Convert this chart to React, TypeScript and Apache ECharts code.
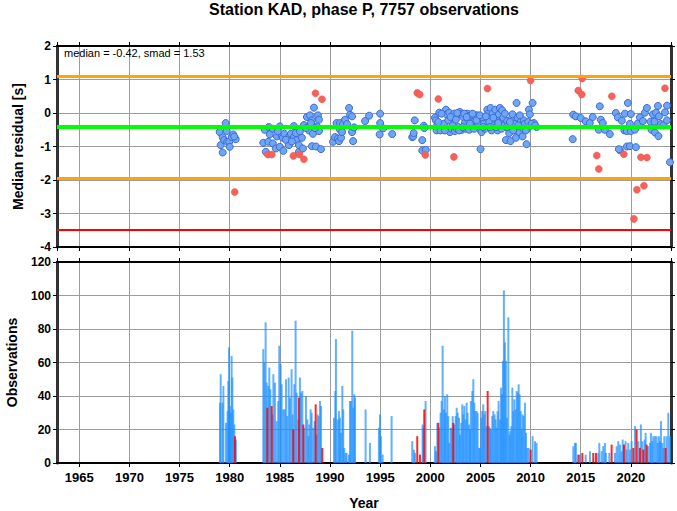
import React, { useEffect, useRef } from "react";
import * as echarts from "echarts";

const TITLE = "Station KAD, phase P, 7757 observations";
const MEDIAN = -0.42;
const SMAD = 1.53;
const STATS_LABEL = "median = -0.42, smad = 1.53";
const X_MIN = 1962.78;
const X_MAX = 2024.0;

// [year, median residual]
const bluePoints: [number, number][] = [
  [1979.0, -0.57], [1979.1, -0.96], [1979.3, -0.73], [1979.3, -1.18], [1979.45, -0.81], [1979.6, -0.3],
  [1979.7, -0.54], [1979.75, -0.86], [1979.95, -0.86], [1980.0, -1.01], [1980.2, -0.72], [1980.35, -0.64],
  [1980.6, -0.78], [1980.45, -0.7],
  [1983.35, -0.89], [1983.5, -0.5], [1983.6, -1.16], [1983.85, -0.86], [1983.9, -0.42], [1984.0, -0.64],
  [1984.3, -0.47], [1984.3, -0.91], [1984.6, -1.06], [1984.7, -0.7], [1985.0, -0.4], [1985.0, -1.01],
  [1985.2, -0.7], [1985.3, -0.74], [1985.35, -1.13], [1985.45, -0.62], [1985.9, -0.72], [1985.9, -0.96],
  [1986.1, -0.62], [1986.4, -0.39], [1986.4, -0.72], [1986.7, -0.81], [1986.9, -0.96], [1986.9, -1.16],
  [1987.2, -0.74], [1987.3, -1.06], [1987.4, -0.36], [1987.7, -0.12], [1987.9, -0.52], [1988.0, -0.07],
  [1988.2, -0.22], [1988.2, -0.99], [1988.3, -0.62], [1988.4, 0.16], [1988.6, -1.0], [1988.7, -0.4],
  [1988.8, -0.07], [1988.9, -0.2], [1988.9, -0.54], [1989.1, -1.08], [1984.8, -0.55], [1985.6, -0.8],
  [1986.2, -0.85], [1986.6, -0.6], [1987.0, -0.55], [1987.6, -0.45], [1988.1, -0.3], [1988.5, -0.45],
  [1990.3, -0.86], [1990.5, -0.72], [1990.66, -0.3], [1990.8, -0.76], [1990.9, -0.84], [1991.0, -0.3],
  [1991.0, -0.5], [1991.1, -0.74], [1991.2, -0.57], [1991.3, -0.33], [1991.5, -0.2], [1991.7, -0.33],
  [1991.9, 0.15], [1992.0, -0.05], [1992.2, -0.1], [1992.2, -0.57], [1992.3, -0.84], [1992.4, -0.43],
  [1993.5, -0.24], [1993.9, -0.08], [1995.0, -0.02], [1995.0, -0.3], [1995.3, -0.46], [1994.95, -0.64],
  [1996.2, -0.63],
  [1998.2, -0.72], [1998.3, -0.7], [1998.35, -0.6], [1998.45, -0.22], [1999.2, -0.81], [1999.35, -0.38],
  [1999.4, -0.45], [1999.2, -1.12], [1999.55, -1.1],
  [2000.46, -0.14], [2000.56, -0.22], [2000.69, -0.37], [2000.63, -0.52], [2000.89, 0.01], [2001.02, -0.52],
  [2001.22, -0.37], [2001.36, -0.32], [2001.56, 0.1], [2001.62, -0.04], [2001.69, -0.47], [2001.89, 0.01],
  [2001.95, -0.57], [2002.12, -0.47], [2002.29, -0.14], [2002.39, -0.02], [2002.45, -0.54], [2002.62, -0.47],
  [2002.79, -0.42], [2002.95, 0.03], [2003.05, -0.04], [2003.15, -0.5], [2003.28, -0.12], [2003.45, -0.3],
  [2003.55, -0.47], [2003.72, -0.02], [2003.78, -0.2], [2003.88, -0.5], [2004.02, -0.07], [2004.11, -0.32],
  [2004.28, -0.27], [2004.45, -0.07], [2004.55, -0.42], [2004.68, -0.07], [2004.78, -0.32], [2004.88, -0.47],
  [2005.01, -1.08], [2005.11, -0.57], [2005.21, -0.14], [2005.34, -0.32], [2005.44, -0.47], [2005.68, 0.1],
  [2005.78, -0.02], [2005.88, -0.27], [2006.01, 0.15], [2006.11, -0.52], [2006.21, -0.02], [2006.34, -0.37],
  [2006.48, 0.1], [2006.61, -0.17], [2006.71, -0.52], [2006.84, -0.04], [2006.94, 0.15], [2007.04, -0.27],
  [2007.17, 0.08], [2007.27, -0.14], [2007.37, -0.37], [2007.54, -0.81], [2007.67, -0.24], [2007.77, -0.47],
  [2007.87, -0.6], [2008.0, -0.84], [2008.1, -0.17], [2008.2, -0.04], [2008.33, -0.32], [2008.44, -0.5],
  [2008.54, -0.74], [2008.6, 0.3], [2008.7, -0.14], [2008.87, -0.57], [2009.0, -0.27], [2009.1, -0.37],
  [2009.2, -0.7], [2009.33, -0.22], [2009.43, -0.32], [2009.6, -0.93], [2009.7, -0.47], [2009.83, 0.1],
  [2009.93, -0.04], [2010.2, 0.3], [2010.33, -0.3], [2010.6, -0.42],
  [2000.79, -0.27], [2001.12, -0.02], [2001.46, -0.52], [2001.79, -0.22], [2002.02, -0.12], [2002.22, -0.37],
  [2002.55, -0.2], [2002.69, 0.0], [2002.88, -0.52], [2003.22, -0.42], [2003.38, -0.02], [2003.62, -0.12],
  [2003.95, -0.32], [2004.21, -0.02], [2004.35, -0.47], [2004.61, -0.22], [2004.95, -0.07], [2005.28, -0.42],
  [2005.54, -0.1], [2005.94, -0.42], [2006.28, -0.14], [2006.54, -0.42], [2006.77, -0.3], [2007.11, -0.47],
  [2007.44, -0.02], [2007.6, -0.42], [2007.94, -0.27], [2008.27, -0.52], [2008.77, -0.37], [2008.93, -0.07],
  [2009.27, -0.47], [2009.53, -0.52], [2009.77, -0.27], [2010.1, -0.32], [2010.43, -0.37],
  [2014.25, -0.05], [2014.5, -0.1], [2014.2, -0.78], [2015.0, -0.15], [2015.5, -0.25], [2015.9, -0.3],
  [2016.2, -0.12], [2016.9, 0.2], [2017.0, -0.2], [2017.2, -0.3], [2016.8, -0.5], [2017.4, -0.5],
  [2017.9, -0.63], [2018.5, 0.0], [2018.7, -0.13], [2019.1, -0.23], [2019.4, -0.02], [2019.7, 0.3],
  [2019.9, -0.32], [2020.0, -0.03], [2019.35, -0.52], [2019.6, -0.54], [2020.0, -0.54], [2020.4, -0.5],
  [2020.7, -0.31], [2020.9, -0.13], [2021.2, -0.24], [2021.4, 0.01], [2021.6, 0.15], [2021.95, -0.26],
  [2022.2, -0.04], [2022.35, -0.26], [2022.5, 0.01], [2022.7, 0.21], [2022.8, -0.1], [2022.05, -0.5],
  [2022.4, -0.58], [2022.75, -0.69], [2023.0, -0.33], [2023.25, -0.37], [2023.4, 0.02], [2023.6, 0.22],
  [2023.6, -0.22], [2023.9, -1.47], [2018.9, -1.11], [2018.8, -1.08], [2019.6, -1.0], [2019.9, -0.99],
  [2020.5, -1.02],
];

const redPoints: [number, number][] = [
  [1980.5, -2.36], [1983.8, -1.24], [1984.2, -1.24], [1986.35, -1.28], [1986.95, -1.24], [1987.4, -1.38],
  [1988.55, 0.59], [1989.2, 0.41], [1998.7, 0.6], [1998.95, 0.55], [1999.5, -1.25], [2000.8, 0.42],
  [2002.35, -1.31], [2005.7, 0.73], [2010.0, 0.97], [2014.75, 0.67], [2015.1, 0.55], [2015.15, 1.03],
  [2016.6, -1.27], [2016.8, -1.67], [2018.1, 0.5], [2019.3, -1.23], [2020.3, -3.16], [2020.6, -2.29],
  [2021.0, -1.32], [2021.3, -2.17], [2021.6, -1.33], [2023.4, 0.74],
];

// [year, number of observations]
const blueBars: [number, number][] = [
  [1979.03, 36], [1979.1, 53], [1979.28, 36], [1979.37, 46], [1979.63, 24], [1979.79, 31], [1979.86, 49],
  [1979.93, 69], [1980.02, 34], [1980.09, 30], [1980.19, 64], [1980.26, 51], [1980.36, 32], [1980.46, 23],
  [1980.62, 14],
  [1983.35, 68], [1983.45, 60], [1983.58, 84], [1983.68, 48], [1983.85, 46], [1983.95, 57], [1984.05, 44],
  [1984.28, 29], [1984.35, 53], [1984.51, 48], [1984.68, 25], [1984.84, 37], [1984.94, 70], [1985.08, 59],
  [1985.18, 47], [1985.34, 32], [1985.48, 32], [1985.61, 50], [1985.74, 28], [1985.88, 51], [1986.01, 39],
  [1986.17, 56], [1986.27, 29], [1986.44, 47], [1986.57, 85], [1986.67, 42], [1986.84, 26], [1987.0, 51],
  [1987.1, 42], [1987.24, 43], [1987.44, 21], [1987.6, 40], [1987.74, 26], [1987.84, 16], [1987.94, 23],
  [1988.07, 32], [1988.17, 30], [1988.33, 21], [1988.47, 25], [1988.67, 17], [1988.77, 29], [1988.87, 28],
  [1989.0, 37], [1989.1, 34],
  [1990.4, 27], [1990.53, 43], [1990.59, 74], [1990.76, 26], [1990.89, 31], [1990.99, 27], [1991.09, 18],
  [1991.23, 46], [1991.32, 32], [1991.42, 9], [1991.56, 6], [1991.66, 6], [1991.89, 5], [1991.99, 37],
  [1992.09, 37], [1992.22, 79], [1992.32, 33], [1992.42, 41], [1992.49, 39], [1993.55, 32], [1993.98, 12],
  [1994.88, 21], [1994.98, 29], [1995.08, 16], [1995.25, 5], [1996.14, 28],
  [1998.2, 13], [1998.37, 8], [1998.47, 6], [1999.23, 23], [1999.3, 21], [1999.53, 37],
  [2000.47, 10], [2000.57, 7], [2000.7, 24], [2000.9, 21], [2001.03, 30], [2001.13, 37], [2001.23, 70],
  [2001.36, 32], [2001.46, 40], [2001.56, 30], [2001.69, 41], [2001.79, 28], [2001.89, 12], [2002.03, 21],
  [2002.13, 21], [2002.23, 28], [2002.39, 23], [2002.53, 28], [2002.63, 33], [2002.73, 30], [2002.86, 27],
  [2002.96, 17], [2003.09, 24], [2003.19, 35], [2003.29, 29], [2003.39, 34], [2003.52, 26], [2003.62, 36],
  [2003.72, 30], [2003.86, 23], [2003.96, 20], [2004.05, 37], [2004.19, 43], [2004.29, 50], [2004.39, 36],
  [2004.49, 31], [2004.62, 31], [2004.72, 30], [2004.85, 9], [2004.95, 9], [2005.08, 27], [2005.18, 31],
  [2005.28, 35], [2005.38, 29], [2005.48, 31], [2005.62, 22], [2005.85, 22], [2005.95, 21], [2006.05, 20],
  [2006.18, 28], [2006.28, 31], [2006.41, 29], [2006.51, 26], [2006.61, 21], [2006.71, 31], [2006.81, 37],
  [2006.95, 26], [2007.05, 45], [2007.15, 41], [2007.25, 61], [2007.34, 103], [2007.44, 72], [2007.54, 61],
  [2007.64, 27], [2007.78, 87], [2007.88, 17], [2007.98, 19], [2008.08, 22], [2008.18, 45], [2008.28, 31],
  [2008.38, 38], [2008.51, 32], [2008.61, 43], [2008.71, 42], [2008.81, 47], [2008.91, 41], [2009.01, 31],
  [2009.11, 20], [2009.21, 29], [2009.31, 28], [2009.44, 36], [2009.54, 18], [2009.67, 9], [2009.8, 9],
  [2010.2, 16], [2010.44, 13], [2010.6, 12],
  [2014.26, 10], [2014.42, 12], [2014.52, 12], [2014.92, 5], [2015.49, 5], [2015.92, 7], [2016.75, 6],
  [2016.85, 12], [2017.08, 7], [2017.25, 10], [2017.41, 12], [2017.51, 6], [2017.85, 6], [2018.41, 6],
  [2018.58, 10], [2018.74, 13], [2018.91, 11], [2019.08, 7], [2019.18, 14], [2019.47, 13], [2019.58, 8],
  [2019.74, 12], [2019.91, 8], [2020.07, 13], [2020.41, 22], [2020.74, 13], [2021.0, 23], [2021.14, 13],
  [2021.37, 14], [2021.47, 18], [2021.7, 10], [2021.9, 12], [2022.0, 18], [2022.13, 13], [2022.23, 16],
  [2022.4, 16], [2022.57, 16], [2022.67, 12], [2022.8, 16], [2022.9, 13], [2023.0, 25], [2023.13, 12],
  [2023.23, 9], [2023.33, 16], [2023.56, 16], [2023.73, 30], [2023.9, 16],
];

const redBars: [number, number][] = [
  [1980.52, 16], [1983.75, 33], [1984.18, 34], [1986.34, 20], [1986.9, 39], [1987.34, 23], [1988.57, 35],
  [1989.23, 9], [1998.7, 16], [1998.97, 5], [1999.4, 32], [2000.8, 24], [2002.29, 24], [2005.72, 43],
  [2010.0, 8], [2014.76, 5], [2015.16, 6], [2016.25, 6], [2016.52, 6], [2018.08, 11], [2019.31, 11],
  [2020.24, 9], [2020.57, 20], [2020.9, 9], [2021.24, 8], [2021.57, 11], [2023.46, 9],
];

const FONT = "'Liberation Sans', Arial, Helvetica, sans-serif";
const GRID_COLOR = "#9c9c9c";

function xAxisDef(gridIndex: number, position: "top" | "bottom", labels: boolean, name?: string) {
  return {
    type: "value",
    gridIndex,
    position,
    min: X_MIN,
    max: X_MAX,
    splitNumber: 12,
    name: name || "",
    nameLocation: "middle",
    nameGap: 33,
    nameTextStyle: { fontFamily: FONT, fontSize: 14, fontWeight: "bold", color: "#000" },
    axisLine: { show: true, onZero: false, lineStyle: { color: "#000", width: 2 } },
    axisTick: { show: true, inside: false, length: 4, lineStyle: { color: "#000", width: 1 } },
    axisLabel: {
      show: labels,
      showMinLabel: false,
      showMaxLabel: false,
      margin: 8,
      fontFamily: FONT,
      fontSize: 13,
      fontWeight: "bold",
      color: "#000",
      formatter: (v: number) => String(Math.round(v)),
    },
    splitLine: { show: position === "bottom", lineStyle: { color: GRID_COLOR, width: 1 } },
  };
}

function yAxisDef(gridIndex: number, position: "left" | "right", min: number, max: number, interval: number, name?: string, nameGap?: number) {
  const left = position === "left";
  return {
    type: "value",
    gridIndex,
    position,
    min,
    max,
    interval,
    name: name || "",
    nameLocation: "middle",
    nameGap: nameGap || 30,
    nameTextStyle: { fontFamily: FONT, fontSize: 14, fontWeight: "bold", color: "#000" },
    axisLine: { show: true, onZero: false, lineStyle: { color: "#333", width: 3 } },
    axisTick: { show: true, inside: false, length: 4, lineStyle: { color: "#000", width: 1 } },
    axisLabel: { show: left, margin: 6, fontFamily: FONT, fontSize: 12, fontWeight: "bold", color: "#000" },
    splitLine: { show: left, lineStyle: { color: GRID_COLOR, width: 1 } },
  };
}

export default function App() {
  const ref = useRef<HTMLDivElement>(null);

  useEffect(() => {
    document.body.style.margin = "0";
    if (!ref.current) return;
    const chart = echarts.init(ref.current, null, { renderer: "svg" });

    const option = {
      animation: false,
      backgroundColor: "#fff",
      grid: [
        { left: 57, right: 6, top: 46, height: 201, outerBoundsMode: "none", containLabel: false },
        { left: 57, right: 6, top: 262, height: 201, outerBoundsMode: "none", containLabel: false },
      ],
      xAxis: [
        xAxisDef(0, "bottom", false),
        xAxisDef(0, "top", false),
        xAxisDef(1, "bottom", true, "Year"),
        xAxisDef(1, "top", false),
      ],
      yAxis: [
        yAxisDef(0, "left", -4, 2, 1, "Median residual [s]", 32),
        yAxisDef(0, "right", -4, 2, 1),
        yAxisDef(1, "left", 0, 120, 20, "Observations", 38),
        yAxisDef(1, "right", 0, 120, 20),
      ],
      graphic: [
        {
          type: "text",
          x: 364,
          y: 1,
          style: {
            text: TITLE,
            fontFamily: FONT,
            fontSize: 16,
            fontWeight: "bold",
            fill: "#000",
            textAlign: "center",
          },
        },
        {
          type: "text",
          x: 64,
          y: 47,
          z: 100,
          style: { text: STATS_LABEL, fontFamily: FONT, fontSize: 11, fill: "#000" },
        },
      ],
      series: [
        {
          type: "line",
          xAxisIndex: 0,
          yAxisIndex: 0,
          data: [],
          z: 1,
          silent: true,
          markLine: {
            silent: true,
            symbol: ["none", "none"],
            label: { show: false },
            animation: false,
            data: [
              { yAxis: MEDIAN + SMAD, lineStyle: { color: "#ffa500", width: 3, type: "solid" } },
              { yAxis: MEDIAN, lineStyle: { color: "#00ff00", width: 4, type: "solid" } },
              { yAxis: MEDIAN - SMAD, lineStyle: { color: "#ffa500", width: 3, type: "solid" } },
              { yAxis: MEDIAN - 2 * SMAD, lineStyle: { color: "#ff0000", width: 2, type: "solid" } },
            ],
          },
        },
        {
          type: "scatter",
          xAxisIndex: 0,
          yAxisIndex: 0,
          z: 3,
          symbol: "circle",
          symbolSize: 7,
          itemStyle: { color: "#6fa6f2", borderColor: "#3c6ad8", borderWidth: 1, opacity: 1 },
          data: bluePoints,
        },
        {
          type: "scatter",
          xAxisIndex: 0,
          yAxisIndex: 0,
          z: 4,
          symbol: "circle",
          symbolSize: 7,
          itemStyle: { color: "#f4625a", borderColor: "#ec5048", borderWidth: 0.5, opacity: 1 },
          data: redPoints,
        },
        {
          type: "bar",
          xAxisIndex: 2,
          yAxisIndex: 2,
          barWidth: 2,
          barGap: "-100%",
          z: 3,
          itemStyle: { color: "rgba(30,144,255,0.7)" },
          data: blueBars,
        },
        {
          type: "bar",
          xAxisIndex: 2,
          yAxisIndex: 2,
          barWidth: 2,
          barGap: "-100%",
          z: 4,
          itemStyle: { color: "rgba(255,0,0,0.85)" },
          data: redBars,
        },
      ],
    };

    chart.setOption(option as any);
    return () => chart.dispose();
  }, []);

  return <div ref={ref} style={{ width: 677, height: 511 }} />;
}
